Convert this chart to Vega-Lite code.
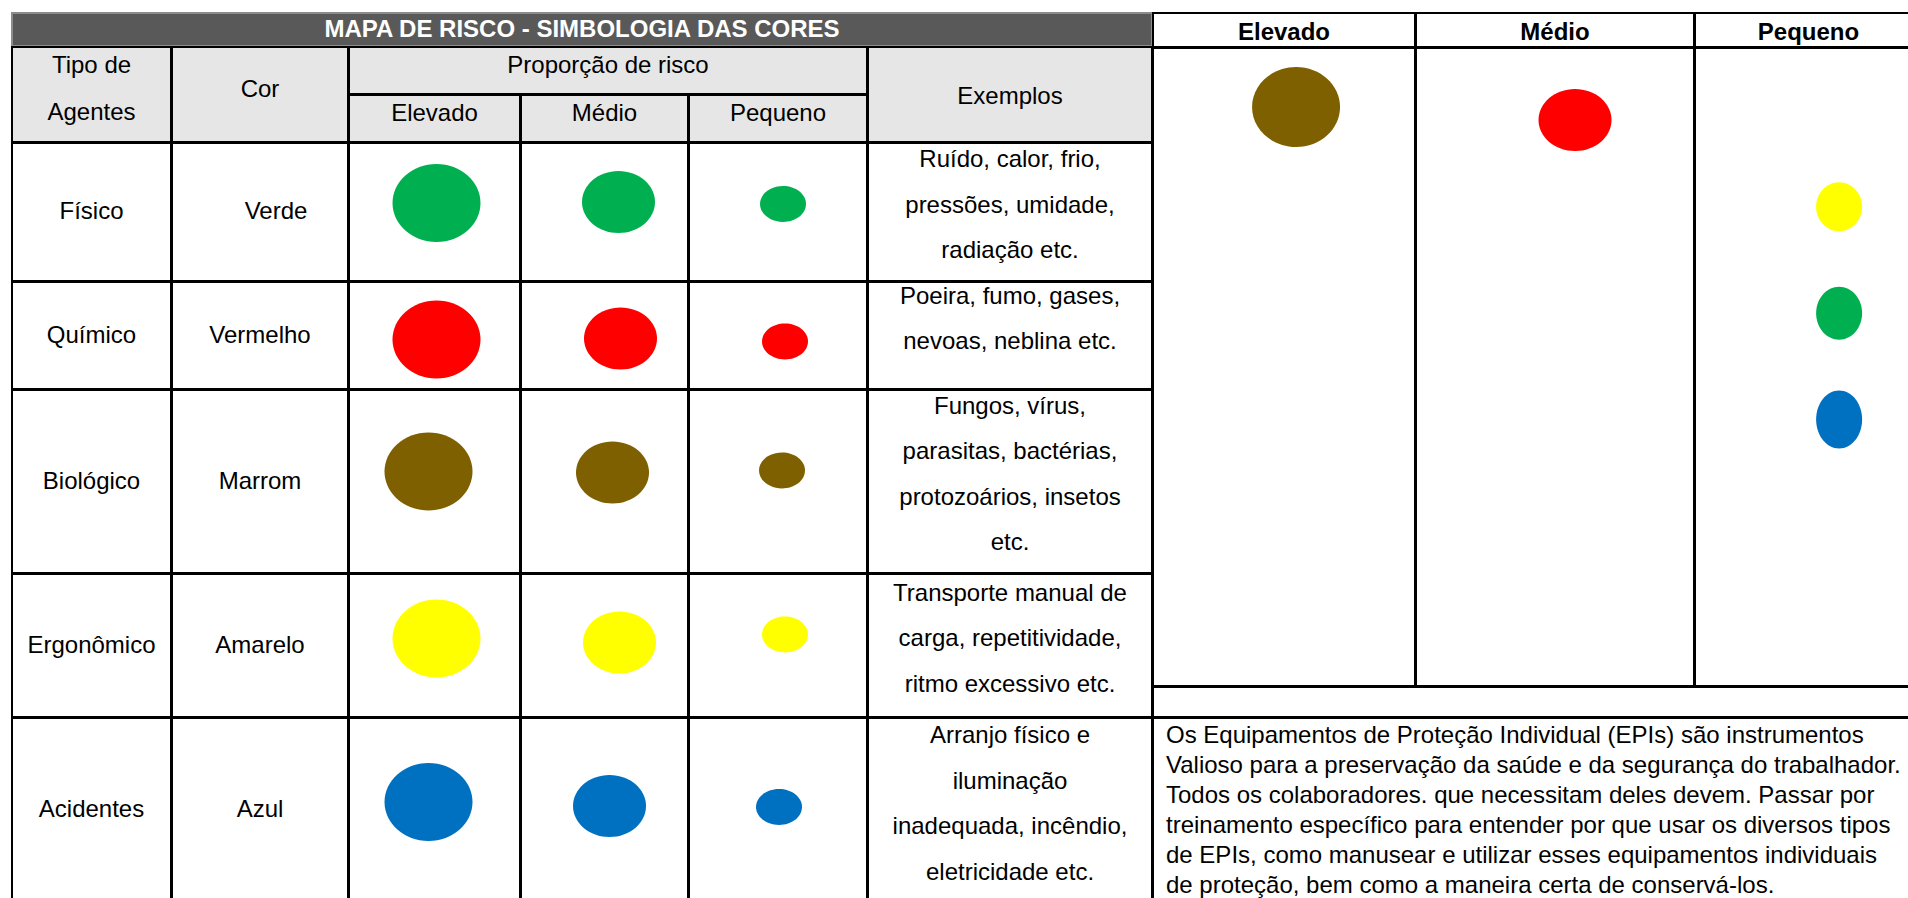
{
"$schema":"https://vega.github.io/schema/vega-lite/v6.json",
"padding":{"left":11,"top":12,"right":0,"bottom":0},
"background":"white",
"spacing":-4,
"resolve":{"scale":{"shape":"independent"}},
"config":{
 "view":{"stroke":"black","strokeWidth":2},
 "text":{"font":"Liberation Sans","fontSize":24,"color":"black","lineBreak":"\n","align":"center","baseline":"middle"},
 "point":{"filled":true,"opacity":1,"strokeWidth":0},
 "concat":{"spacing":-4}
},
"datasets":{
 "agentes":[
  {"tipo":"Físico","cor":"Verde","exemplos":"Ruído, calor, frio,\npressões, umidade,\nradiação etc."},
  {"tipo":"Químico","cor":"Vermelho","exemplos":"Poeira, fumo, gases,\nnevoas, neblina etc."},
  {"tipo":"Biológico","cor":"Marrom","exemplos":"Fungos, vírus,\nparasitas, bactérias,\nprotozoários, insetos\netc."},
  {"tipo":"Ergonômico","cor":"Amarelo","exemplos":"Transporte manual de\ncarga, repetitividade,\nritmo excessivo etc."},
  {"tipo":"Acidentes","cor":"Azul","exemplos":"Arranjo físico e\niluminação\ninadequada, incêndio,\neletricidade etc."}
 ],
 "riscos":[
  {"tipo":"Físico","cor":"Verde","nivel":"Elevado"},{"tipo":"Físico","cor":"Verde","nivel":"Médio"},{"tipo":"Físico","cor":"Verde","nivel":"Pequeno"},
  {"tipo":"Químico","cor":"Vermelho","nivel":"Elevado"},{"tipo":"Químico","cor":"Vermelho","nivel":"Médio"},{"tipo":"Químico","cor":"Vermelho","nivel":"Pequeno"},
  {"tipo":"Biológico","cor":"Marrom","nivel":"Elevado"},{"tipo":"Biológico","cor":"Marrom","nivel":"Médio"},{"tipo":"Biológico","cor":"Marrom","nivel":"Pequeno"},
  {"tipo":"Ergonômico","cor":"Amarelo","nivel":"Elevado"},{"tipo":"Ergonômico","cor":"Amarelo","nivel":"Médio"},{"tipo":"Ergonômico","cor":"Amarelo","nivel":"Pequeno"},
  {"tipo":"Acidentes","cor":"Azul","nivel":"Elevado"},{"tipo":"Acidentes","cor":"Azul","nivel":"Médio"},{"tipo":"Acidentes","cor":"Azul","nivel":"Pequeno"}
 ],
 "direita":[
  {"nivel":"Elevado","cor":"Marrom"},
  {"nivel":"Médio","cor":"Vermelho"},
  {"nivel":"Pequeno","cor":"Amarelo"},
  {"nivel":"Pequeno","cor":"Verde"},
  {"nivel":"Pequeno","cor":"Azul"}
 ]
},
"hconcat":[
 {"spacing":-4,"vconcat":[
  {"width":1140,"height":33,"view":{"fill":"#595959","stroke":"#8c8c8c","strokeWidth":2},"data":{"values":[{"titulo":"MAPA DE RISCO - SIMBOLOGIA DAS CORES"}]},"mark":{"type":"text","color":"white","fontWeight":"bold","clip":true},"encoding":{"text":{"field":"titulo","type":"nominal"}}},
  {"spacing":-4,"hconcat":[
   {"width":159,"height":95,"view":{"fill":"#e6e6e6","stroke":"black","strokeWidth":2},"data":{"values":[{"rotulo":"Tipo de\nAgentes"}]},"mark":{"type":"text","yOffset":-29,"lineHeight":47.5,"clip":true},"encoding":{"text":{"field":"rotulo","type":"nominal"}}},
   {"width":176,"height":95,"view":{"fill":"#e6e6e6","stroke":"black","strokeWidth":2},"data":{"values":[{"rotulo":"Cor"}]},"mark":{"type":"text","yOffset":-5,"clip":true},"encoding":{"text":{"field":"rotulo","type":"nominal"}}},
   {"spacing":-4,"vconcat":[
    {"width":518,"height":47,"view":{"fill":"#e6e6e6","stroke":"black","strokeWidth":2},"data":{"values":[{"rotulo":"Proporção de risco"}]},"mark":{"type":"text","yOffset":-5,"clip":true},"encoding":{"text":{"field":"rotulo","type":"nominal"}}},
    {"spacing":-4,"hconcat":[
     {"width":171,"height":47,"view":{"fill":"#e6e6e6","stroke":"black","strokeWidth":2},"data":{"values":[{"rotulo":"Elevado"}]},"mark":{"type":"text","yOffset":-5,"clip":true},"encoding":{"text":{"field":"rotulo","type":"nominal"}}},
     {"width":167,"height":47,"view":{"fill":"#e6e6e6","stroke":"black","strokeWidth":2},"data":{"values":[{"rotulo":"Médio"}]},"mark":{"type":"text","yOffset":-5,"clip":true},"encoding":{"text":{"field":"rotulo","type":"nominal"}}},
     {"width":178,"height":47,"view":{"fill":"#e6e6e6","stroke":"black","strokeWidth":2},"data":{"values":[{"rotulo":"Pequeno"}]},"mark":{"type":"text","yOffset":-5,"clip":true},"encoding":{"text":{"field":"rotulo","type":"nominal"}}}
    ]}
   ]},
   {"width":284,"height":95,"view":{"fill":"#e6e6e6","stroke":"black","strokeWidth":2},"data":{"values":[{"rotulo":"Exemplos"}]},"mark":{"type":"text","yOffset":2,"clip":true},"encoding":{"text":{"field":"rotulo","type":"nominal"}}}
  ]},
  {"spacing":-4,"hconcat":[
   {"width":159,"height":138,"view":{"stroke":"black","strokeWidth":2},"data":{"name":"agentes"},"transform":[{"filter":"datum.tipo==='Físico'"}],"mark":{"type":"text","clip":true},"encoding":{"text":{"field":"tipo","type":"nominal"}}},
   {"width":176,"height":138,"view":{"stroke":"black","strokeWidth":2},"data":{"name":"agentes"},"transform":[{"filter":"datum.tipo==='Físico'"}],"mark":{"type":"text","xOffset":16,"clip":true},"encoding":{"text":{"field":"cor","type":"nominal"}}},
   {"width":171,"height":138,"view":{"stroke":"black","strokeWidth":2},"data":{"name":"riscos"},"transform":[{"filter":"datum.tipo==='Físico' && datum.nivel==='Elevado'"}],"mark":{"type":"point","xOffset":2,"yOffset":-9,"clip":true},"encoding":{"color":{"field":"cor","type":"nominal","scale":{"domain":["Verde","Vermelho","Marrom","Amarelo","Azul"],"range":["#00b050","#ff0000","#7f6000","#ffff00","#0070c0"]},"legend":null},"size":{"field":"nivel","type":"ordinal","scale":{"type":"ordinal","domain":["Elevado","Médio","Pequeno"],"range":[7744,5329,2116]},"legend":null},"shape":{"field":"nivel","type":"nominal","scale":{"domain":["Elevado","Médio","Pequeno"],"range":["M1,0C1,0.489 0.552,0.886 0,0.886C-0.552,0.886 -1,0.489 -1,0C-1,-0.489 -0.552,-0.886 0,-0.886C0.552,-0.886 1,-0.489 1,0Z","M1,0C1,0.469 0.552,0.85 0,0.85C-0.552,0.85 -1,0.469 -1,0C-1,-0.469 -0.552,-0.85 0,-0.85C0.552,-0.85 1,-0.469 1,0Z","M1,0C1,0.431 0.552,0.78 0,0.78C-0.552,0.78 -1,0.431 -1,0C-1,-0.431 -0.552,-0.78 0,-0.78C0.552,-0.78 1,-0.431 1,0Z"]},"legend":null}}},
   {"width":167,"height":138,"view":{"stroke":"black","strokeWidth":2},"data":{"name":"riscos"},"transform":[{"filter":"datum.tipo==='Físico' && datum.nivel==='Médio'"}],"mark":{"type":"point","xOffset":14,"yOffset":-10,"clip":true},"encoding":{"color":{"field":"cor","type":"nominal","scale":{"domain":["Verde","Vermelho","Marrom","Amarelo","Azul"],"range":["#00b050","#ff0000","#7f6000","#ffff00","#0070c0"]},"legend":null},"size":{"field":"nivel","type":"ordinal","scale":{"type":"ordinal","domain":["Elevado","Médio","Pequeno"],"range":[7744,5329,2116]},"legend":null},"shape":{"field":"nivel","type":"nominal","scale":{"domain":["Elevado","Médio","Pequeno"],"range":["M1,0C1,0.489 0.552,0.886 0,0.886C-0.552,0.886 -1,0.489 -1,0C-1,-0.489 -0.552,-0.886 0,-0.886C0.552,-0.886 1,-0.489 1,0Z","M1,0C1,0.469 0.552,0.85 0,0.85C-0.552,0.85 -1,0.469 -1,0C-1,-0.469 -0.552,-0.85 0,-0.85C0.552,-0.85 1,-0.469 1,0Z","M1,0C1,0.431 0.552,0.78 0,0.78C-0.552,0.78 -1,0.431 -1,0C-1,-0.431 -0.552,-0.78 0,-0.78C0.552,-0.78 1,-0.431 1,0Z"]},"legend":null}}},
   {"width":178,"height":138,"view":{"stroke":"black","strokeWidth":2},"data":{"name":"riscos"},"transform":[{"filter":"datum.tipo==='Físico' && datum.nivel==='Pequeno'"}],"mark":{"type":"point","xOffset":5,"yOffset":-8,"clip":true},"encoding":{"color":{"field":"cor","type":"nominal","scale":{"domain":["Verde","Vermelho","Marrom","Amarelo","Azul"],"range":["#00b050","#ff0000","#7f6000","#ffff00","#0070c0"]},"legend":null},"size":{"field":"nivel","type":"ordinal","scale":{"type":"ordinal","domain":["Elevado","Médio","Pequeno"],"range":[7744,5329,2116]},"legend":null},"shape":{"field":"nivel","type":"nominal","scale":{"domain":["Elevado","Médio","Pequeno"],"range":["M1,0C1,0.489 0.552,0.886 0,0.886C-0.552,0.886 -1,0.489 -1,0C-1,-0.489 -0.552,-0.886 0,-0.886C0.552,-0.886 1,-0.489 1,0Z","M1,0C1,0.469 0.552,0.85 0,0.85C-0.552,0.85 -1,0.469 -1,0C-1,-0.469 -0.552,-0.85 0,-0.85C0.552,-0.85 1,-0.469 1,0Z","M1,0C1,0.431 0.552,0.78 0,0.78C-0.552,0.78 -1,0.431 -1,0C-1,-0.431 -0.552,-0.78 0,-0.78C0.552,-0.78 1,-0.431 1,0Z"]},"legend":null}}},
   {"width":284,"height":138,"view":{"stroke":"black","strokeWidth":2},"data":{"name":"agentes"},"transform":[{"filter":"datum.tipo==='Físico'"}],"mark":{"type":"text","yOffset":-52,"lineHeight":45.5,"clip":true},"encoding":{"text":{"field":"exemplos","type":"nominal"}}}
  ]},
  {"spacing":-4,"hconcat":[
   {"width":159,"height":107,"view":{"stroke":"black","strokeWidth":2},"data":{"name":"agentes"},"transform":[{"filter":"datum.tipo==='Químico'"}],"mark":{"type":"text","clip":true},"encoding":{"text":{"field":"tipo","type":"nominal"}}},
   {"width":176,"height":107,"view":{"stroke":"black","strokeWidth":2},"data":{"name":"agentes"},"transform":[{"filter":"datum.tipo==='Químico'"}],"mark":{"type":"text","clip":true},"encoding":{"text":{"field":"cor","type":"nominal"}}},
   {"width":171,"height":107,"view":{"stroke":"black","strokeWidth":2},"data":{"name":"riscos"},"transform":[{"filter":"datum.tipo==='Químico' && datum.nivel==='Elevado'"}],"mark":{"type":"point","xOffset":2,"yOffset":4,"clip":true},"encoding":{"color":{"field":"cor","type":"nominal","scale":{"domain":["Verde","Vermelho","Marrom","Amarelo","Azul"],"range":["#00b050","#ff0000","#7f6000","#ffff00","#0070c0"]},"legend":null},"size":{"field":"nivel","type":"ordinal","scale":{"type":"ordinal","domain":["Elevado","Médio","Pequeno"],"range":[7744,5329,2116]},"legend":null},"shape":{"field":"nivel","type":"nominal","scale":{"domain":["Elevado","Médio","Pequeno"],"range":["M1,0C1,0.489 0.552,0.886 0,0.886C-0.552,0.886 -1,0.489 -1,0C-1,-0.489 -0.552,-0.886 0,-0.886C0.552,-0.886 1,-0.489 1,0Z","M1,0C1,0.469 0.552,0.85 0,0.85C-0.552,0.85 -1,0.469 -1,0C-1,-0.469 -0.552,-0.85 0,-0.85C0.552,-0.85 1,-0.469 1,0Z","M1,0C1,0.431 0.552,0.78 0,0.78C-0.552,0.78 -1,0.431 -1,0C-1,-0.431 -0.552,-0.78 0,-0.78C0.552,-0.78 1,-0.431 1,0Z"]},"legend":null}}},
   {"width":167,"height":107,"view":{"stroke":"black","strokeWidth":2},"data":{"name":"riscos"},"transform":[{"filter":"datum.tipo==='Químico' && datum.nivel==='Médio'"}],"mark":{"type":"point","xOffset":16,"yOffset":3,"clip":true},"encoding":{"color":{"field":"cor","type":"nominal","scale":{"domain":["Verde","Vermelho","Marrom","Amarelo","Azul"],"range":["#00b050","#ff0000","#7f6000","#ffff00","#0070c0"]},"legend":null},"size":{"field":"nivel","type":"ordinal","scale":{"type":"ordinal","domain":["Elevado","Médio","Pequeno"],"range":[7744,5329,2116]},"legend":null},"shape":{"field":"nivel","type":"nominal","scale":{"domain":["Elevado","Médio","Pequeno"],"range":["M1,0C1,0.489 0.552,0.886 0,0.886C-0.552,0.886 -1,0.489 -1,0C-1,-0.489 -0.552,-0.886 0,-0.886C0.552,-0.886 1,-0.489 1,0Z","M1,0C1,0.469 0.552,0.85 0,0.85C-0.552,0.85 -1,0.469 -1,0C-1,-0.469 -0.552,-0.85 0,-0.85C0.552,-0.85 1,-0.469 1,0Z","M1,0C1,0.431 0.552,0.78 0,0.78C-0.552,0.78 -1,0.431 -1,0C-1,-0.431 -0.552,-0.78 0,-0.78C0.552,-0.78 1,-0.431 1,0Z"]},"legend":null}}},
   {"width":178,"height":107,"view":{"stroke":"black","strokeWidth":2},"data":{"name":"riscos"},"transform":[{"filter":"datum.tipo==='Químico' && datum.nivel==='Pequeno'"}],"mark":{"type":"point","xOffset":7,"yOffset":6,"clip":true},"encoding":{"color":{"field":"cor","type":"nominal","scale":{"domain":["Verde","Vermelho","Marrom","Amarelo","Azul"],"range":["#00b050","#ff0000","#7f6000","#ffff00","#0070c0"]},"legend":null},"size":{"field":"nivel","type":"ordinal","scale":{"type":"ordinal","domain":["Elevado","Médio","Pequeno"],"range":[7744,5329,2116]},"legend":null},"shape":{"field":"nivel","type":"nominal","scale":{"domain":["Elevado","Médio","Pequeno"],"range":["M1,0C1,0.489 0.552,0.886 0,0.886C-0.552,0.886 -1,0.489 -1,0C-1,-0.489 -0.552,-0.886 0,-0.886C0.552,-0.886 1,-0.489 1,0Z","M1,0C1,0.469 0.552,0.85 0,0.85C-0.552,0.85 -1,0.469 -1,0C-1,-0.469 -0.552,-0.85 0,-0.85C0.552,-0.85 1,-0.469 1,0Z","M1,0C1,0.431 0.552,0.78 0,0.78C-0.552,0.78 -1,0.431 -1,0C-1,-0.431 -0.552,-0.78 0,-0.78C0.552,-0.78 1,-0.431 1,0Z"]},"legend":null}}},
   {"width":284,"height":107,"view":{"stroke":"black","strokeWidth":2},"data":{"name":"agentes"},"transform":[{"filter":"datum.tipo==='Químico'"}],"mark":{"type":"text","yOffset":-39,"lineHeight":45.5,"clip":true},"encoding":{"text":{"field":"exemplos","type":"nominal"}}}
  ]},
  {"spacing":-4,"hconcat":[
   {"width":159,"height":183,"view":{"stroke":"black","strokeWidth":2},"data":{"name":"agentes"},"transform":[{"filter":"datum.tipo==='Biológico'"}],"mark":{"type":"text","clip":true},"encoding":{"text":{"field":"tipo","type":"nominal"}}},
   {"width":176,"height":183,"view":{"stroke":"black","strokeWidth":2},"data":{"name":"agentes"},"transform":[{"filter":"datum.tipo==='Biológico'"}],"mark":{"type":"text","clip":true},"encoding":{"text":{"field":"cor","type":"nominal"}}},
   {"width":171,"height":183,"view":{"stroke":"black","strokeWidth":2},"data":{"name":"riscos"},"transform":[{"filter":"datum.tipo==='Biológico' && datum.nivel==='Elevado'"}],"mark":{"type":"point","xOffset":-6,"yOffset":-10,"clip":true},"encoding":{"color":{"field":"cor","type":"nominal","scale":{"domain":["Verde","Vermelho","Marrom","Amarelo","Azul"],"range":["#00b050","#ff0000","#7f6000","#ffff00","#0070c0"]},"legend":null},"size":{"field":"nivel","type":"ordinal","scale":{"type":"ordinal","domain":["Elevado","Médio","Pequeno"],"range":[7744,5329,2116]},"legend":null},"shape":{"field":"nivel","type":"nominal","scale":{"domain":["Elevado","Médio","Pequeno"],"range":["M1,0C1,0.489 0.552,0.886 0,0.886C-0.552,0.886 -1,0.489 -1,0C-1,-0.489 -0.552,-0.886 0,-0.886C0.552,-0.886 1,-0.489 1,0Z","M1,0C1,0.469 0.552,0.85 0,0.85C-0.552,0.85 -1,0.469 -1,0C-1,-0.469 -0.552,-0.85 0,-0.85C0.552,-0.85 1,-0.469 1,0Z","M1,0C1,0.431 0.552,0.78 0,0.78C-0.552,0.78 -1,0.431 -1,0C-1,-0.431 -0.552,-0.78 0,-0.78C0.552,-0.78 1,-0.431 1,0Z"]},"legend":null}}},
   {"width":167,"height":183,"view":{"stroke":"black","strokeWidth":2},"data":{"name":"riscos"},"transform":[{"filter":"datum.tipo==='Biológico' && datum.nivel==='Médio'"}],"mark":{"type":"point","xOffset":8,"yOffset":-9,"clip":true},"encoding":{"color":{"field":"cor","type":"nominal","scale":{"domain":["Verde","Vermelho","Marrom","Amarelo","Azul"],"range":["#00b050","#ff0000","#7f6000","#ffff00","#0070c0"]},"legend":null},"size":{"field":"nivel","type":"ordinal","scale":{"type":"ordinal","domain":["Elevado","Médio","Pequeno"],"range":[7744,5329,2116]},"legend":null},"shape":{"field":"nivel","type":"nominal","scale":{"domain":["Elevado","Médio","Pequeno"],"range":["M1,0C1,0.489 0.552,0.886 0,0.886C-0.552,0.886 -1,0.489 -1,0C-1,-0.489 -0.552,-0.886 0,-0.886C0.552,-0.886 1,-0.489 1,0Z","M1,0C1,0.469 0.552,0.85 0,0.85C-0.552,0.85 -1,0.469 -1,0C-1,-0.469 -0.552,-0.85 0,-0.85C0.552,-0.85 1,-0.469 1,0Z","M1,0C1,0.431 0.552,0.78 0,0.78C-0.552,0.78 -1,0.431 -1,0C-1,-0.431 -0.552,-0.78 0,-0.78C0.552,-0.78 1,-0.431 1,0Z"]},"legend":null}}},
   {"width":178,"height":183,"view":{"stroke":"black","strokeWidth":2},"data":{"name":"riscos"},"transform":[{"filter":"datum.tipo==='Biológico' && datum.nivel==='Pequeno'"}],"mark":{"type":"point","xOffset":4,"yOffset":-11,"clip":true},"encoding":{"color":{"field":"cor","type":"nominal","scale":{"domain":["Verde","Vermelho","Marrom","Amarelo","Azul"],"range":["#00b050","#ff0000","#7f6000","#ffff00","#0070c0"]},"legend":null},"size":{"field":"nivel","type":"ordinal","scale":{"type":"ordinal","domain":["Elevado","Médio","Pequeno"],"range":[7744,5329,2116]},"legend":null},"shape":{"field":"nivel","type":"nominal","scale":{"domain":["Elevado","Médio","Pequeno"],"range":["M1,0C1,0.489 0.552,0.886 0,0.886C-0.552,0.886 -1,0.489 -1,0C-1,-0.489 -0.552,-0.886 0,-0.886C0.552,-0.886 1,-0.489 1,0Z","M1,0C1,0.469 0.552,0.85 0,0.85C-0.552,0.85 -1,0.469 -1,0C-1,-0.469 -0.552,-0.85 0,-0.85C0.552,-0.85 1,-0.469 1,0Z","M1,0C1,0.431 0.552,0.78 0,0.78C-0.552,0.78 -1,0.431 -1,0C-1,-0.431 -0.552,-0.78 0,-0.78C0.552,-0.78 1,-0.431 1,0Z"]},"legend":null}}},
   {"width":284,"height":183,"view":{"stroke":"black","strokeWidth":2},"data":{"name":"agentes"},"transform":[{"filter":"datum.tipo==='Biológico'"}],"mark":{"type":"text","yOffset":-75,"lineHeight":45.5,"clip":true},"encoding":{"text":{"field":"exemplos","type":"nominal"}}}
  ]},
  {"spacing":-4,"hconcat":[
   {"width":159,"height":143,"view":{"stroke":"black","strokeWidth":2},"data":{"name":"agentes"},"transform":[{"filter":"datum.tipo==='Ergonômico'"}],"mark":{"type":"text","clip":true},"encoding":{"text":{"field":"tipo","type":"nominal"}}},
   {"width":176,"height":143,"view":{"stroke":"black","strokeWidth":2},"data":{"name":"agentes"},"transform":[{"filter":"datum.tipo==='Ergonômico'"}],"mark":{"type":"text","clip":true},"encoding":{"text":{"field":"cor","type":"nominal"}}},
   {"width":171,"height":143,"view":{"stroke":"black","strokeWidth":2},"data":{"name":"riscos"},"transform":[{"filter":"datum.tipo==='Ergonômico' && datum.nivel==='Elevado'"}],"mark":{"type":"point","xOffset":2,"yOffset":-7,"clip":true},"encoding":{"color":{"field":"cor","type":"nominal","scale":{"domain":["Verde","Vermelho","Marrom","Amarelo","Azul"],"range":["#00b050","#ff0000","#7f6000","#ffff00","#0070c0"]},"legend":null},"size":{"field":"nivel","type":"ordinal","scale":{"type":"ordinal","domain":["Elevado","Médio","Pequeno"],"range":[7744,5329,2116]},"legend":null},"shape":{"field":"nivel","type":"nominal","scale":{"domain":["Elevado","Médio","Pequeno"],"range":["M1,0C1,0.489 0.552,0.886 0,0.886C-0.552,0.886 -1,0.489 -1,0C-1,-0.489 -0.552,-0.886 0,-0.886C0.552,-0.886 1,-0.489 1,0Z","M1,0C1,0.469 0.552,0.85 0,0.85C-0.552,0.85 -1,0.469 -1,0C-1,-0.469 -0.552,-0.85 0,-0.85C0.552,-0.85 1,-0.469 1,0Z","M1,0C1,0.431 0.552,0.78 0,0.78C-0.552,0.78 -1,0.431 -1,0C-1,-0.431 -0.552,-0.78 0,-0.78C0.552,-0.78 1,-0.431 1,0Z"]},"legend":null}}},
   {"width":167,"height":143,"view":{"stroke":"black","strokeWidth":2},"data":{"name":"riscos"},"transform":[{"filter":"datum.tipo==='Ergonômico' && datum.nivel==='Médio'"}],"mark":{"type":"point","xOffset":15,"yOffset":-3,"clip":true},"encoding":{"color":{"field":"cor","type":"nominal","scale":{"domain":["Verde","Vermelho","Marrom","Amarelo","Azul"],"range":["#00b050","#ff0000","#7f6000","#ffff00","#0070c0"]},"legend":null},"size":{"field":"nivel","type":"ordinal","scale":{"type":"ordinal","domain":["Elevado","Médio","Pequeno"],"range":[7744,5329,2116]},"legend":null},"shape":{"field":"nivel","type":"nominal","scale":{"domain":["Elevado","Médio","Pequeno"],"range":["M1,0C1,0.489 0.552,0.886 0,0.886C-0.552,0.886 -1,0.489 -1,0C-1,-0.489 -0.552,-0.886 0,-0.886C0.552,-0.886 1,-0.489 1,0Z","M1,0C1,0.469 0.552,0.85 0,0.85C-0.552,0.85 -1,0.469 -1,0C-1,-0.469 -0.552,-0.85 0,-0.85C0.552,-0.85 1,-0.469 1,0Z","M1,0C1,0.431 0.552,0.78 0,0.78C-0.552,0.78 -1,0.431 -1,0C-1,-0.431 -0.552,-0.78 0,-0.78C0.552,-0.78 1,-0.431 1,0Z"]},"legend":null}}},
   {"width":178,"height":143,"view":{"stroke":"black","strokeWidth":2},"data":{"name":"riscos"},"transform":[{"filter":"datum.tipo==='Ergonômico' && datum.nivel==='Pequeno'"}],"mark":{"type":"point","xOffset":7,"yOffset":-11,"clip":true},"encoding":{"color":{"field":"cor","type":"nominal","scale":{"domain":["Verde","Vermelho","Marrom","Amarelo","Azul"],"range":["#00b050","#ff0000","#7f6000","#ffff00","#0070c0"]},"legend":null},"size":{"field":"nivel","type":"ordinal","scale":{"type":"ordinal","domain":["Elevado","Médio","Pequeno"],"range":[7744,5329,2116]},"legend":null},"shape":{"field":"nivel","type":"nominal","scale":{"domain":["Elevado","Médio","Pequeno"],"range":["M1,0C1,0.489 0.552,0.886 0,0.886C-0.552,0.886 -1,0.489 -1,0C-1,-0.489 -0.552,-0.886 0,-0.886C0.552,-0.886 1,-0.489 1,0Z","M1,0C1,0.469 0.552,0.85 0,0.85C-0.552,0.85 -1,0.469 -1,0C-1,-0.469 -0.552,-0.85 0,-0.85C0.552,-0.85 1,-0.469 1,0Z","M1,0C1,0.431 0.552,0.78 0,0.78C-0.552,0.78 -1,0.431 -1,0C-1,-0.431 -0.552,-0.78 0,-0.78C0.552,-0.78 1,-0.431 1,0Z"]},"legend":null}}},
   {"width":284,"height":143,"view":{"stroke":"black","strokeWidth":2},"data":{"name":"agentes"},"transform":[{"filter":"datum.tipo==='Ergonômico'"}],"mark":{"type":"text","yOffset":-52,"lineHeight":45.5,"clip":true},"encoding":{"text":{"field":"exemplos","type":"nominal"}}}
  ]},
  {"spacing":-4,"hconcat":[
   {"width":159,"height":199,"view":{"stroke":"black","strokeWidth":2},"data":{"name":"agentes"},"transform":[{"filter":"datum.tipo==='Acidentes'"}],"mark":{"type":"text","yOffset":-7.5,"clip":true},"encoding":{"text":{"field":"tipo","type":"nominal"}}},
   {"width":176,"height":199,"view":{"stroke":"black","strokeWidth":2},"data":{"name":"agentes"},"transform":[{"filter":"datum.tipo==='Acidentes'"}],"mark":{"type":"text","yOffset":-7.5,"clip":true},"encoding":{"text":{"field":"cor","type":"nominal"}}},
   {"width":171,"height":199,"view":{"stroke":"black","strokeWidth":2},"data":{"name":"riscos"},"transform":[{"filter":"datum.tipo==='Acidentes' && datum.nivel==='Elevado'"}],"mark":{"type":"point","xOffset":-6,"yOffset":-15.5,"clip":true},"encoding":{"color":{"field":"cor","type":"nominal","scale":{"domain":["Verde","Vermelho","Marrom","Amarelo","Azul"],"range":["#00b050","#ff0000","#7f6000","#ffff00","#0070c0"]},"legend":null},"size":{"field":"nivel","type":"ordinal","scale":{"type":"ordinal","domain":["Elevado","Médio","Pequeno"],"range":[7744,5329,2116]},"legend":null},"shape":{"field":"nivel","type":"nominal","scale":{"domain":["Elevado","Médio","Pequeno"],"range":["M1,0C1,0.489 0.552,0.886 0,0.886C-0.552,0.886 -1,0.489 -1,0C-1,-0.489 -0.552,-0.886 0,-0.886C0.552,-0.886 1,-0.489 1,0Z","M1,0C1,0.469 0.552,0.85 0,0.85C-0.552,0.85 -1,0.469 -1,0C-1,-0.469 -0.552,-0.85 0,-0.85C0.552,-0.85 1,-0.469 1,0Z","M1,0C1,0.431 0.552,0.78 0,0.78C-0.552,0.78 -1,0.431 -1,0C-1,-0.431 -0.552,-0.78 0,-0.78C0.552,-0.78 1,-0.431 1,0Z"]},"legend":null}}},
   {"width":167,"height":199,"view":{"stroke":"black","strokeWidth":2},"data":{"name":"riscos"},"transform":[{"filter":"datum.tipo==='Acidentes' && datum.nivel==='Médio'"}],"mark":{"type":"point","xOffset":5,"yOffset":-11.5,"clip":true},"encoding":{"color":{"field":"cor","type":"nominal","scale":{"domain":["Verde","Vermelho","Marrom","Amarelo","Azul"],"range":["#00b050","#ff0000","#7f6000","#ffff00","#0070c0"]},"legend":null},"size":{"field":"nivel","type":"ordinal","scale":{"type":"ordinal","domain":["Elevado","Médio","Pequeno"],"range":[7744,5329,2116]},"legend":null},"shape":{"field":"nivel","type":"nominal","scale":{"domain":["Elevado","Médio","Pequeno"],"range":["M1,0C1,0.489 0.552,0.886 0,0.886C-0.552,0.886 -1,0.489 -1,0C-1,-0.489 -0.552,-0.886 0,-0.886C0.552,-0.886 1,-0.489 1,0Z","M1,0C1,0.469 0.552,0.85 0,0.85C-0.552,0.85 -1,0.469 -1,0C-1,-0.469 -0.552,-0.85 0,-0.85C0.552,-0.85 1,-0.469 1,0Z","M1,0C1,0.431 0.552,0.78 0,0.78C-0.552,0.78 -1,0.431 -1,0C-1,-0.431 -0.552,-0.78 0,-0.78C0.552,-0.78 1,-0.431 1,0Z"]},"legend":null}}},
   {"width":178,"height":199,"view":{"stroke":"black","strokeWidth":2},"data":{"name":"riscos"},"transform":[{"filter":"datum.tipo==='Acidentes' && datum.nivel==='Pequeno'"}],"mark":{"type":"point","xOffset":1,"yOffset":-10.5,"clip":true},"encoding":{"color":{"field":"cor","type":"nominal","scale":{"domain":["Verde","Vermelho","Marrom","Amarelo","Azul"],"range":["#00b050","#ff0000","#7f6000","#ffff00","#0070c0"]},"legend":null},"size":{"field":"nivel","type":"ordinal","scale":{"type":"ordinal","domain":["Elevado","Médio","Pequeno"],"range":[7744,5329,2116]},"legend":null},"shape":{"field":"nivel","type":"nominal","scale":{"domain":["Elevado","Médio","Pequeno"],"range":["M1,0C1,0.489 0.552,0.886 0,0.886C-0.552,0.886 -1,0.489 -1,0C-1,-0.489 -0.552,-0.886 0,-0.886C0.552,-0.886 1,-0.489 1,0Z","M1,0C1,0.469 0.552,0.85 0,0.85C-0.552,0.85 -1,0.469 -1,0C-1,-0.469 -0.552,-0.85 0,-0.85C0.552,-0.85 1,-0.469 1,0Z","M1,0C1,0.431 0.552,0.78 0,0.78C-0.552,0.78 -1,0.431 -1,0C-1,-0.431 -0.552,-0.78 0,-0.78C0.552,-0.78 1,-0.431 1,0Z"]},"legend":null}}},
   {"width":284,"height":199,"view":{"stroke":"black","strokeWidth":2},"data":{"name":"agentes"},"transform":[{"filter":"datum.tipo==='Acidentes'"}],"mark":{"type":"text","yOffset":-81.5,"lineHeight":45.5,"clip":true},"encoding":{"text":{"field":"exemplos","type":"nominal"}}}
  ]}
 ]},
 {"spacing":-4,"vconcat":[
  {"spacing":-4,"hconcat":[
   {"width":262,"height":34,"view":{"stroke":"black","strokeWidth":2},"data":{"values":[{"rotulo":"Elevado"}]},"mark":{"type":"text","fontWeight":"bold","yOffset":3,"clip":true},"encoding":{"text":{"field":"rotulo","type":"nominal"}}},
   {"width":278,"height":34,"view":{"stroke":"black","strokeWidth":2},"data":{"values":[{"rotulo":"Médio"}]},"mark":{"type":"text","fontWeight":"bold","yOffset":3,"clip":true},"encoding":{"text":{"field":"rotulo","type":"nominal"}}},
   {"width":239,"height":34,"view":{"stroke":"black","strokeWidth":2},"data":{"values":[{"rotulo":"Pequeno"}]},"mark":{"type":"text","fontWeight":"bold","xOffset":-6,"yOffset":3,"clip":true},"encoding":{"text":{"field":"rotulo","type":"nominal"}}}
  ]},
  {"spacing":-4,"hconcat":[
   {"width":262,"height":638,"view":{"stroke":"black","strokeWidth":2},"data":{"name":"direita"},"transform":[{"filter":"datum.nivel==='Elevado'"}],"mark":{"type":"point","clip":true},"encoding":{
     "x":{"field":"nivel","type":"nominal","scale":{"type":"point","padding":0,"align":0.546},"axis":null},
     "y":{"field":"cor","type":"nominal","scale":{"type":"point","padding":0,"align":0.0925},"axis":null},
     "color":{"field":"cor","type":"nominal","scale":{"domain":["Verde","Vermelho","Marrom","Amarelo","Azul"],"range":["#00b050","#ff0000","#7f6000","#ffff00","#0070c0"]},"legend":null},
     "size":{"field":"nivel","type":"ordinal","scale":{"type":"ordinal","domain":["Elevado","Médio","Pequeno"],"range":[7744,5329,2116]},"legend":null},
     "shape":{"field":"cor","type":"nominal","scale":{"domain":["Marrom","Vermelho","Amarelo","Verde","Azul"],"range":["M1,0C1,0.503 0.552,0.91 0,0.91C-0.552,0.91 -1,0.503 -1,0C-1,-0.503 -0.552,-0.91 0,-0.91C0.552,-0.91 1,-0.503 1,0Z","M1,0C1,0.469 0.552,0.85 0,0.85C-0.552,0.85 -1,0.469 -1,0C-1,-0.469 -0.552,-0.85 0,-0.85C0.552,-0.85 1,-0.469 1,0Z","M1,0C1,0.588 0.552,1.065 0,1.065C-0.552,1.065 -1,0.588 -1,0C-1,-0.588 -0.552,-1.065 0,-1.065C0.552,-1.065 1,-0.588 1,0Z","M1,0C1,0.635 0.552,1.15 0,1.15C-0.552,1.15 -1,0.635 -1,0C-1,-0.635 -0.552,-1.15 0,-1.15C0.552,-1.15 1,-0.635 1,0Z","M1,0C1,0.696 0.552,1.26 0,1.26C-0.552,1.26 -1,0.696 -1,0C-1,-0.696 -0.552,-1.26 0,-1.26C0.552,-1.26 1,-0.696 1,0Z"]},"legend":null}}},
   {"width":278,"height":638,"view":{"stroke":"black","strokeWidth":2},"data":{"name":"direita"},"transform":[{"filter":"datum.nivel==='Médio'"}],"mark":{"type":"point","clip":true},"encoding":{
     "x":{"field":"nivel","type":"nominal","scale":{"type":"point","padding":0,"align":0.572},"axis":null},
     "y":{"field":"cor","type":"nominal","scale":{"type":"point","padding":0,"align":0.1129},"axis":null},
     "color":{"field":"cor","type":"nominal","scale":{"domain":["Verde","Vermelho","Marrom","Amarelo","Azul"],"range":["#00b050","#ff0000","#7f6000","#ffff00","#0070c0"]},"legend":null},
     "size":{"field":"nivel","type":"ordinal","scale":{"type":"ordinal","domain":["Elevado","Médio","Pequeno"],"range":[7744,5329,2116]},"legend":null},
     "shape":{"field":"cor","type":"nominal","scale":{"domain":["Marrom","Vermelho","Amarelo","Verde","Azul"],"range":["M1,0C1,0.503 0.552,0.91 0,0.91C-0.552,0.91 -1,0.503 -1,0C-1,-0.503 -0.552,-0.91 0,-0.91C0.552,-0.91 1,-0.503 1,0Z","M1,0C1,0.469 0.552,0.85 0,0.85C-0.552,0.85 -1,0.469 -1,0C-1,-0.469 -0.552,-0.85 0,-0.85C0.552,-0.85 1,-0.469 1,0Z","M1,0C1,0.588 0.552,1.065 0,1.065C-0.552,1.065 -1,0.588 -1,0C-1,-0.588 -0.552,-1.065 0,-1.065C0.552,-1.065 1,-0.588 1,0Z","M1,0C1,0.635 0.552,1.15 0,1.15C-0.552,1.15 -1,0.635 -1,0C-1,-0.635 -0.552,-1.15 0,-1.15C0.552,-1.15 1,-0.635 1,0Z","M1,0C1,0.696 0.552,1.26 0,1.26C-0.552,1.26 -1,0.696 -1,0C-1,-0.696 -0.552,-1.26 0,-1.26C0.552,-1.26 1,-0.696 1,0Z"]},"legend":null}}},
   {"width":239,"height":638,"view":{"stroke":"black","strokeWidth":2},"data":{"name":"direita"},"transform":[{"filter":"datum.nivel==='Pequeno'"}],"mark":{"type":"point","clip":true},"encoding":{
     "x":{"field":"nivel","type":"nominal","scale":{"type":"point","padding":0,"align":0.603},"axis":null},
     "y":{"field":"cor","type":"nominal","scale":{"type":"point","domain":["Marrom","Amarelo","Verde","Azul","Vermelho"],"padding":1,"align":0.247},"axis":null},
     "color":{"field":"cor","type":"nominal","scale":{"domain":["Verde","Vermelho","Marrom","Amarelo","Azul"],"range":["#00b050","#ff0000","#7f6000","#ffff00","#0070c0"]},"legend":null},
     "size":{"field":"nivel","type":"ordinal","scale":{"type":"ordinal","domain":["Elevado","Médio","Pequeno"],"range":[7744,5329,2116]},"legend":null},
     "shape":{"field":"cor","type":"nominal","scale":{"domain":["Marrom","Vermelho","Amarelo","Verde","Azul"],"range":["M1,0C1,0.503 0.552,0.91 0,0.91C-0.552,0.91 -1,0.503 -1,0C-1,-0.503 -0.552,-0.91 0,-0.91C0.552,-0.91 1,-0.503 1,0Z","M1,0C1,0.469 0.552,0.85 0,0.85C-0.552,0.85 -1,0.469 -1,0C-1,-0.469 -0.552,-0.85 0,-0.85C0.552,-0.85 1,-0.469 1,0Z","M1,0C1,0.588 0.552,1.065 0,1.065C-0.552,1.065 -1,0.588 -1,0C-1,-0.588 -0.552,-1.065 0,-1.065C0.552,-1.065 1,-0.588 1,0Z","M1,0C1,0.635 0.552,1.15 0,1.15C-0.552,1.15 -1,0.635 -1,0C-1,-0.635 -0.552,-1.15 0,-1.15C0.552,-1.15 1,-0.635 1,0Z","M1,0C1,0.696 0.552,1.26 0,1.26C-0.552,1.26 -1,0.696 -1,0C-1,-0.696 -0.552,-1.26 0,-1.26C0.552,-1.26 1,-0.696 1,0Z"]},"legend":null}}}
  ]},
  {"width":781,"height":30,"view":{"stroke":"black","strokeWidth":2},"data":{"values":[{"vazio":""}]},"mark":{"type":"text","clip":true},"encoding":{"text":{"field":"vazio","type":"nominal"}}},
  {"width":781,"height":199,"view":{"stroke":"black","strokeWidth":2},"data":{"values":[{"bloco":"EPI","texto":"Os Equipamentos de Proteção Individual (EPIs) são instrumentos\nValioso para a preservação da saúde e da segurança do trabalhador.\nTodos os colaboradores. que necessitam deles devem. Passar por\ntreinamento específico para entender por que usar os diversos tipos\nde EPIs, como manusear e utilizar esses equipamentos individuais\nde proteção, bem como a maneira certa de conservá-los."}]},"mark":{"type":"text","align":"left","lineHeight":30,"dx":13,"yOffset":-81.5,"clip":true},"encoding":{
    "x":{"field":"bloco","type":"nominal","scale":{"type":"point","padding":0,"align":0},"axis":null},
    "text":{"field":"texto","type":"nominal"}}}
 ]}
]
}
